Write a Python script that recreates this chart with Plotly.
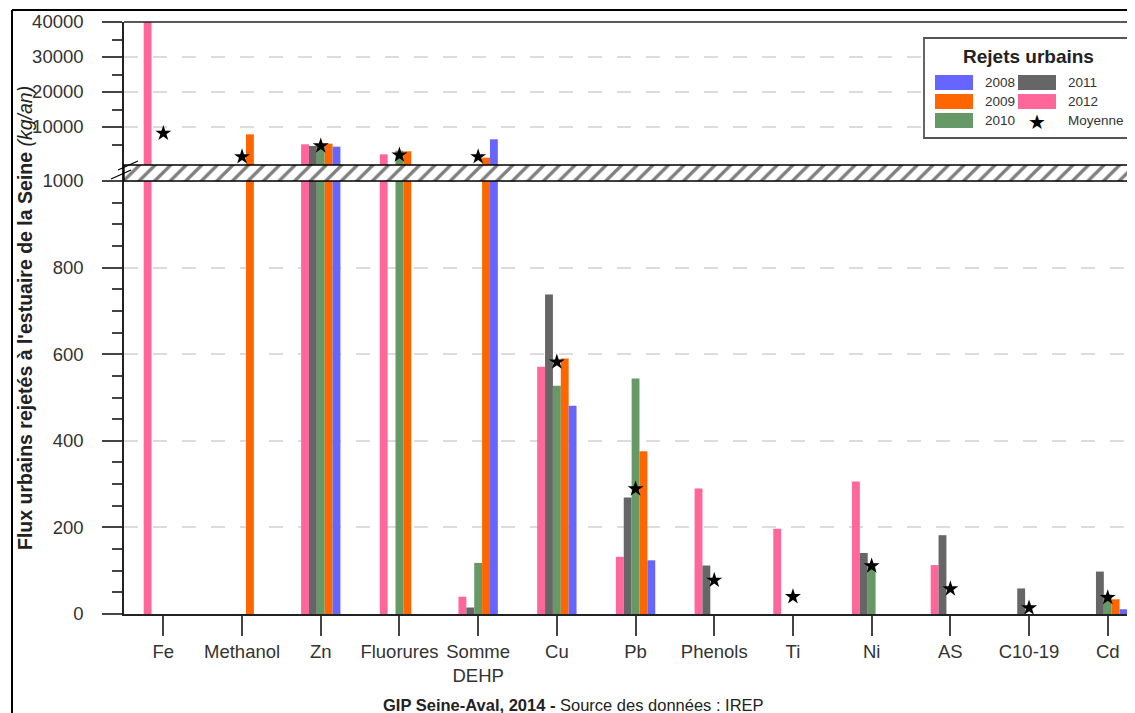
import plotly.graph_objects as go

# ---------------- data ----------------
categories = ["Fe", "Methanol", "Zn", "Fluorures", "Somme<br>DEHP", "Cu", "Pb",
              "Phenols", "Ti", "Ni", "AS", "C10-19", "Cd"]
years = ["2012", "2011", "2010", "2009", "2008"]          # left-to-right order in each group
v2012 = [41000, None, 5050, 2190, 40, 571, 132, 290, 197, 306, 113, None, None]
v2011 = [None, None, 4570, None, 15, 738, 269, 112, None, 141, 182, 59, 98]
v2010 = [None, None, 4900, 3240, 118, 527, 544, None, None, 108, None, None, 45]
v2009 = [None, 7900, 5240, 3050, 1230, 590, 376, None, None, None, None, None, 34]
v2008 = [None, None, 4380, None, 6490, 481, 124, None, None, None, None, None, 11]
moyenne = [8200, 1500, 4600, 2000, 1500, 582, 289, 78, 40, 111, 58, 14, 38]

lower_ticks = [0, 200, 400, 600, 800, 1000]
upper_ticks = [10000, 20000, 30000, 40000]
upper_labels = ["10000", "20000", "30000", "40000"]

series = {"2012": v2012, "2011": v2011, "2010": v2010, "2009": v2009, "2008": v2008}
colors = {"2008": "#6666FF", "2009": "#FF6600", "2010": "#669966",
          "2011": "#666666", "2012": "#FF6699"}

# ---------------- geometry (page pixels; the page body has an 8px margin) ----------------
OFF = 8
PAGE_W, PAGE_H = 1135, 713
W, H = PAGE_W - OFF, PAGE_H - OFF
PLOT_L, PLOT_R, PLOT_T, PLOT_B = 124, 1135, 22, 614     # plot area in page pixels
ML, MT = PLOT_L - OFF, PLOT_T - OFF
MR = W - (PLOT_R - OFF)
MB = H - (PLOT_B - OFF)
PW, PH = PLOT_R - PLOT_L, PLOT_B - PLOT_T


def px(p):   # page pixel x -> paper x
    return (p - PLOT_L) / PW


def py(p):   # page pixel y -> paper y
    return (PLOT_B - p) / PH


BREAK_PIX = 162
LOWER_MAX = 1000 * (PLOT_B - BREAK_PIX) / (PLOT_B - 181)
cat_spacing = 78.7
x_max = -0.5 + PW / cat_spacing

FONT = "Liberation Sans, Arial, sans-serif"
TXT = "#333333"
AX = "#222222"

fig = go.Figure()

# lower panel bars (all values, clipped at the break)
for yr in years:
    fig.add_trace(go.Bar(x=categories, y=series[yr], name=yr, marker_color=colors[yr],
                         marker_line_width=0, xaxis="x", yaxis="y", showlegend=False))
# upper panel bars (only values above the break)
for yr in years:
    vals = [v if (v is not None and v > LOWER_MAX) else None for v in series[yr]]
    fig.add_trace(go.Bar(x=categories, y=vals, name=yr, marker_color=colors[yr],
                         marker_line_width=0, xaxis="x2", yaxis="y2", showlegend=False))

# mean stars
low_m = [m if m <= LOWER_MAX else None for m in moyenne]
up_m = [m if m > LOWER_MAX else None for m in moyenne]
for vals, xa, ya in [(low_m, "x", "y"), (up_m, "x2", "y2")]:
    fig.add_trace(go.Scatter(x=categories, y=vals, mode="markers", name="Moyenne",
                             marker=dict(symbol="star", size=12, color="black"),
                             cliponaxis=False, xaxis=xa, yaxis=ya, showlegend=False))

# hatched break band
fig.add_trace(go.Scatter(x=[0, 1, 1, 0, 0], y=[0, 0, 1, 1, 0], mode="lines", fill="toself",
                         fillcolor="white",
                         fillpattern=dict(shape="/", fgcolor="black", bgcolor="white",
                                          size=11, solidity=0.3),
                         line=dict(width=0), xaxis="x3", yaxis="y3", hoverinfo="skip",
                         showlegend=False))

tickfont = dict(family=FONT, size=18.5, color=TXT)
fig.update_layout(
    width=W, height=H,
    margin=dict(l=ML, r=MR, t=MT, b=MB, pad=0),
    paper_bgcolor="white", plot_bgcolor="white",
    barmode="group", bargap=0.5, bargroupgap=0,
    font=dict(family=FONT, color=TXT),
    showlegend=False,
    xaxis=dict(domain=[0, 1], anchor="y", range=[-0.5, x_max], type="category",
               showline=True, linecolor=AX, linewidth=1.5,
               ticks="outside", ticklen=20, tickwidth=1.5, tickcolor="#444",
               tickfont=tickfont, ticklabelstandoff=0, showgrid=False),
    yaxis=dict(domain=[0, py(BREAK_PIX)], anchor="x", range=[0, LOWER_MAX],
               tickvals=lower_ticks, tickfont=tickfont,
               showline=True, linecolor=AX, linewidth=1.5,
               ticks="outside", ticklen=20, tickwidth=1.5, tickcolor="#444",
               ticklabelstandoff=15,
               minor=dict(tickvals=[v for v in range(50, 1000, 50) if v % 200],
                          ticks="outside", ticklen=10, tickwidth=1.5, tickcolor="#444",
                          showgrid=False),
               showgrid=True, gridcolor="#dcdcdc", gridwidth=1.5, griddash="14px,15px",
               zeroline=False),
    xaxis2=dict(domain=[0, 1], anchor="y2", matches="x", range=[-0.5, x_max],
                type="category", showticklabels=False, ticks="", showline=False,
                showgrid=False),
    yaxis2=dict(domain=[py(BREAK_PIX), 1], anchor="x2", range=[0, 40000],
                tickvals=upper_ticks, ticktext=upper_labels, tickfont=tickfont,
                showline=True, linecolor=AX, linewidth=1.5,
                ticks="outside", ticklen=20, tickwidth=1.5, tickcolor="#444",
                ticklabelstandoff=15,
                minor=dict(tickvals=[5000, 15000, 25000, 35000], ticks="outside",
                           ticklen=10, tickwidth=1.5, tickcolor="#444", showgrid=False),
                showgrid=True, gridcolor="#dcdcdc", gridwidth=1.5, griddash="14px,15px",
                zeroline=False),
    xaxis3=dict(domain=[0, 1], anchor="y3", range=[0, 1], visible=False, fixedrange=True),
    yaxis3=dict(domain=[py(181), py(165)], anchor="x3", range=[0, 1], visible=False,
                fixedrange=True),
)

shapes = []
# hatched band border
shapes.append(dict(type="rect", xref="paper", yref="paper", x0=0, x1=1.01,
                   y0=py(181), y1=py(165), line=dict(color="black", width=1.3),
                   layer="above"))
# break marks on the axis
for (xa, ya, xb, yb) in [(111, 179, 131, 170), (118, 170, 138, 161)]:
    shapes.append(dict(type="line", xref="paper", yref="paper", x0=px(xa), y0=py(ya),
                       x1=px(xb), y1=py(yb), line=dict(color="black", width=1.3),
                       layer="above"))
# top frame line of plot area
shapes.append(dict(type="line", xref="paper", yref="paper", x0=0, x1=1.01, y0=1, y1=1,
                   line=dict(color=AX, width=1.5), layer="above"))
# outer image border (top and left)
shapes.append(dict(type="line", xref="paper", yref="paper", x0=px(12), x1=px(1140),
                   y0=py(10), y1=py(10), line=dict(color="black", width=2)))
shapes.append(dict(type="line", xref="paper", yref="paper", x0=px(12), x1=px(12),
                   y0=py(10), y1=py(720), line=dict(color="black", width=2)))

# legend box
shapes.append(dict(type="rect", xref="paper", yref="paper", x0=px(924), x1=px(1132),
                   y0=py(138), y1=py(38), line=dict(color="#555555", width=1.8),
                   fillcolor="white", layer="above"))
annotations = []
annotations.append(dict(xref="paper", yref="paper", x=px(1028), y=py(57),
                        xanchor="center", yanchor="middle",
                        text="<b>Rejets urbains</b>", showarrow=False,
                        font=dict(family=FONT, size=19, color="#222")))
legend_items = [("2008", 0, 0), ("2009", 0, 1), ("2010", 0, 2),
                ("2011", 1, 0), ("2012", 1, 1), ("Moyenne", 1, 2)]
col_sw = [935, 1018]
col_tx = [983, 1066]
row_top = [75, 94, 113]
for name, c, r in legend_items:
    yc = row_top[r] + 7.5
    if name in colors:
        shapes.append(dict(type="rect", xref="paper", yref="paper",
                           x0=px(col_sw[c]), x1=px(col_sw[c] + 38),
                           y0=py(row_top[r] + 15), y1=py(row_top[r]),
                           fillcolor=colors[name], line=dict(width=0), layer="above"))
    else:
        annotations.append(dict(xref="paper", yref="paper", x=px(col_sw[c] + 19),
                                y=py(yc + 1), xanchor="center", yanchor="middle",
                                text="★", showarrow=False,
                                font=dict(family="DejaVu Sans", size=20, color="black")))
    annotations.append(dict(xref="paper", yref="paper", x=px(col_tx[c]), y=py(yc),
                            xanchor="left", yanchor="middle", text=name, showarrow=False,
                            font=dict(family=FONT, size=13.5, color=TXT)))

# y-axis title
annotations.append(dict(xref="paper", yref="paper", x=px(25), y=py(318), textangle=-90,
                        xanchor="center", yanchor="middle",
                        text="<b>Flux urbains rejetés à l'estuaire de la Seine</b> <i>(kg/an)</i>",
                        showarrow=False, font=dict(family=FONT, size=19.5, color="#222")))
# caption (cut by the bottom edge, as in the reference)
annotations.append(dict(xref="paper", yref="paper", x=px(573), y=py(705),
                        xanchor="center", yanchor="middle",
                        text="<b>GIP Seine-Aval, 2014 -</b> Source des données : IREP",
                        showarrow=False, font=dict(family=FONT, size=16.5, color="#222")))

fig.update_layout(shapes=shapes, annotations=annotations)
fig.write_html("out.html")
